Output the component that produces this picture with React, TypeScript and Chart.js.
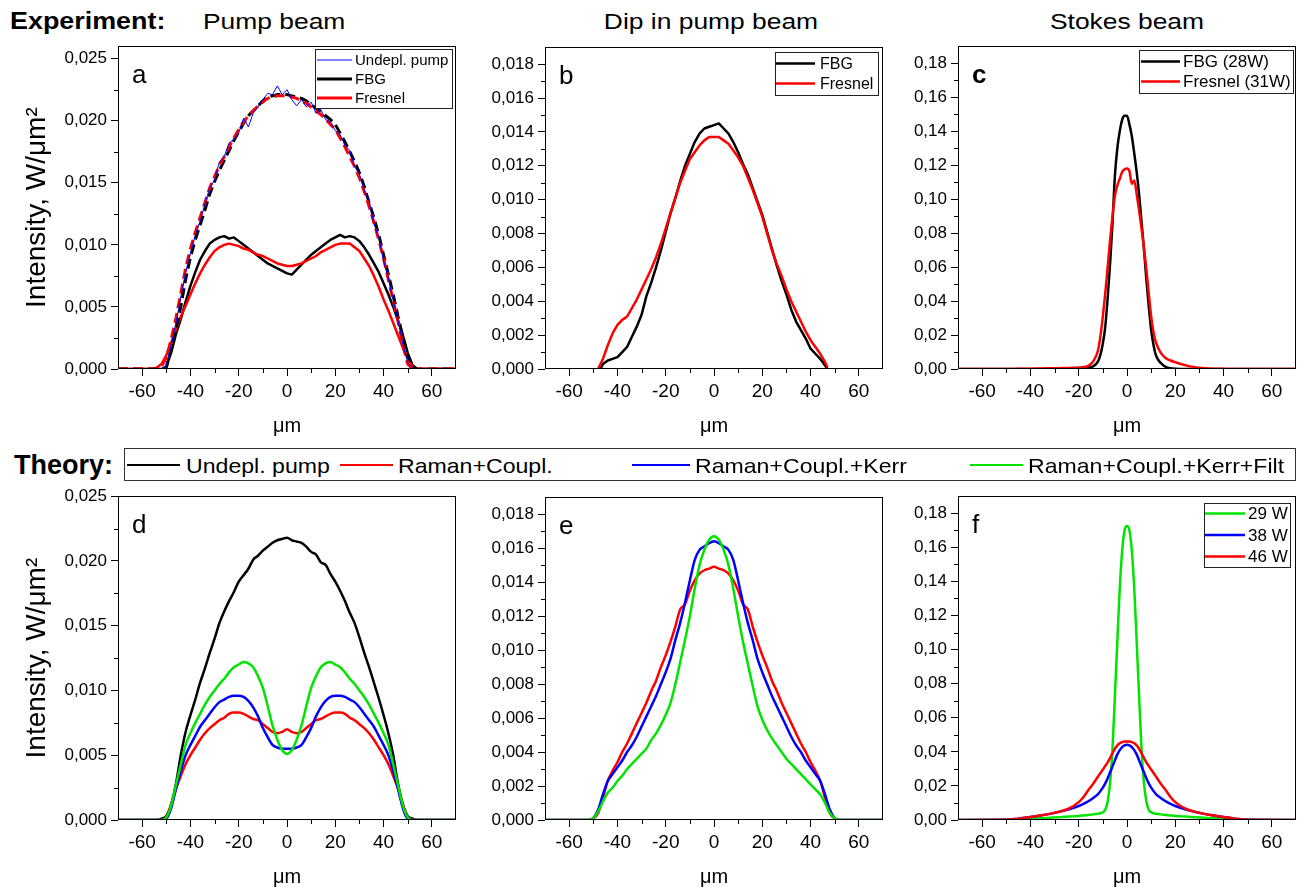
import React, { useEffect, useRef } from "react";
import { Chart, registerables } from "chart.js";

Chart.register(...registerables);

const FONT = '"Liberation Sans", Arial, Helvetica, sans-serif';
Chart.defaults.font.family = FONT;
Chart.defaults.color = "#000";

const RED = "#ff0000";
const BLUE = "#0000ff";
const GREEN = "#00e400";
const BLACK = "#000000";

// ---------- axis ticks ----------
const xMajor = [-60, -40, -20, 0, 20, 40, 60];
const xMinor = [-50, -30, -10, 10, 30, 50];
const yMajorA = [0, 0.005, 0.01, 0.015, 0.02, 0.025];
const yMinorA = [0.0025, 0.0075, 0.0125, 0.0175, 0.0225];
const yMajorB = [0, 0.002, 0.004, 0.006, 0.008, 0.01, 0.012, 0.014, 0.016, 0.018];
const yMinorB = [0.001, 0.003, 0.005, 0.007, 0.009, 0.011, 0.013, 0.015, 0.017];
const yMajorC = [0, 0.02, 0.04, 0.06, 0.08, 0.1, 0.12, 0.14, 0.16, 0.18];
const yMinorC = [0.01, 0.03, 0.05, 0.07, 0.09, 0.11, 0.13, 0.15, 0.17];

// ---------- x positions (µm) ----------
const xGrid = [-70, -56, -54, -52, -50, -48, -46, -44, -42, -40, -38, -36, -34, -32, -30, -28, -26, -24, -22, -20, -18, -16, -14, -12, -10, -8, -6, -4, -2, 0, 2, 4, 6, 8, 10, 12, 14, 16, 18, 20, 22, 24, 26, 28, 30, 32, 34, 36, 38, 40, 42, 44, 46, 48, 50, 52, 54, 56, 70];
const xB = [-48, -47, -46, -44, -42, -40, -38, -36, -34, -32, -30, -28, -26, -24, -22, -20, -18, -16, -14, -12, -10, -8, -6, -4, -2, 0, 2, 4, 6, 8, 10, 12, 14, 16, 18, 20, 22, 24, 26, 28, 30, 32, 34, 36, 38, 40, 42, 44, 46, 47, 48];
const xF = [-70, -50, -45, -40, -36, -32, -28, -24, -20, -18, -16, -14, -12, -11, -10, -9, -8, -7, -6, -5, -4, -3, -2, -1, 0, 1, 2, 3, 4, 5, 6, 7, 8, 9, 10, 11, 12, 14, 16, 18, 20, 24, 28, 32, 36, 40, 45, 50, 70];

// ---------- panel a (experiment, pump beam) on xGrid ----------
const aUndeplPump = [0, 0, 0, 0, 0.0003, 0.0019, 0.0037, 0.0058, 0.0078, 0.0093, 0.0108, 0.0119, 0.0133, 0.0146, 0.0152, 0.0167, 0.0171, 0.0182, 0.0185, 0.019, 0.0202, 0.0195, 0.0206, 0.0211, 0.0217, 0.0222, 0.0221, 0.0228, 0.0221, 0.0225, 0.0217, 0.0212, 0.0217, 0.0211, 0.0215, 0.0206, 0.0209, 0.0201, 0.0199, 0.0192, 0.0189, 0.018, 0.0176, 0.0163, 0.0157, 0.0144, 0.0136, 0.0117, 0.0106, 0.0087, 0.0073, 0.0055, 0.0039, 0.002, 0.0005, 0.0001, 0, 0, 0];
const aFbgUndepl = [0, 0, 0, 0, 0.0001, 0.0016, 0.0032, 0.005, 0.0072, 0.009, 0.0104, 0.0116, 0.0128, 0.0141, 0.0151, 0.016, 0.0168, 0.0176, 0.0184, 0.0191, 0.0198, 0.0204, 0.0208, 0.0212, 0.0216, 0.0219, 0.022, 0.0221, 0.0221, 0.0221, 0.022, 0.0219, 0.0218, 0.0216, 0.0213, 0.021, 0.0207, 0.0204, 0.0201, 0.0197, 0.019, 0.0183, 0.0175, 0.0167, 0.0158, 0.0147, 0.0134, 0.0122, 0.0108, 0.0092, 0.0076, 0.006, 0.0042, 0.0026, 0.0011, 0.0002, 0, 0, 0];
const aFresnelUndepl = [0, 0, 0, 0.0002, 0.0009, 0.0024, 0.0041, 0.0061, 0.0081, 0.0097, 0.011, 0.0122, 0.0134, 0.0146, 0.0155, 0.0164, 0.0171, 0.0179, 0.0186, 0.0193, 0.0199, 0.0204, 0.0208, 0.0212, 0.0215, 0.0218, 0.0219, 0.022, 0.022, 0.022, 0.0219, 0.0218, 0.0216, 0.0214, 0.0211, 0.0208, 0.0205, 0.0201, 0.0197, 0.0193, 0.0186, 0.0179, 0.0171, 0.0163, 0.0154, 0.0143, 0.0131, 0.0118, 0.0104, 0.0089, 0.0072, 0.0055, 0.0038, 0.0019, 0.0004, 0, 0, 0, 0];
const aFbg = [0, 0, 0, 0, 0.0002, 0.0013, 0.0028, 0.004, 0.0054, 0.0067, 0.0078, 0.0088, 0.0095, 0.0101, 0.0104, 0.0106, 0.0107, 0.0105, 0.0106, 0.0103, 0.01, 0.0097, 0.0094, 0.0091, 0.0088, 0.0085, 0.0083, 0.0081, 0.0079, 0.0077, 0.0076, 0.008, 0.0084, 0.0088, 0.0092, 0.0095, 0.0098, 0.0101, 0.0104, 0.0106, 0.0108, 0.0106, 0.0107, 0.0106, 0.0103, 0.0098, 0.0092, 0.0085, 0.0078, 0.0069, 0.006, 0.005, 0.0039, 0.0027, 0.0013, 0.0003, 0, 0, 0];
const aFresnel = [0, 0, 0.0001, 0.0004, 0.0011, 0.0021, 0.0032, 0.0042, 0.0051, 0.006, 0.0069, 0.0077, 0.0084, 0.009, 0.0095, 0.0098, 0.01, 0.0101, 0.01, 0.0099, 0.0097, 0.0096, 0.0094, 0.0092, 0.0091, 0.0089, 0.0087, 0.0085, 0.0084, 0.0083, 0.0083, 0.0084, 0.0085, 0.0087, 0.0089, 0.0091, 0.0094, 0.0096, 0.0098, 0.01, 0.0101, 0.0101, 0.0101, 0.0098, 0.0095, 0.0089, 0.0083, 0.0075, 0.0066, 0.0056, 0.0047, 0.0037, 0.0027, 0.0017, 0.0009, 0.0002, 0, 0, 0];

// ---------- panel b (experiment, dip in pump beam) on xB ----------
const bFbg = [null, 0, 0.0003, 0.0005, 0.0006, 0.0007, 0.001, 0.0013, 0.0019, 0.0025, 0.0032, 0.0043, 0.0051, 0.006, 0.007, 0.0081, 0.0092, 0.0101, 0.0111, 0.012, 0.0127, 0.0134, 0.0139, 0.0142, 0.0143, 0.0144, 0.0145, 0.0142, 0.0139, 0.0134, 0.0128, 0.0121, 0.0115, 0.0107, 0.0099, 0.0091, 0.0081, 0.0071, 0.0061, 0.0052, 0.0044, 0.0035, 0.0028, 0.0023, 0.0018, 0.0012, 0.0009, 0.0006, 0.0002, 0, null];
const bFresnel = [0, 0.0003, 0.0006, 0.0014, 0.0021, 0.0026, 0.0029, 0.0031, 0.0036, 0.0041, 0.0047, 0.0053, 0.0059, 0.0066, 0.0074, 0.0083, 0.0092, 0.0101, 0.011, 0.0117, 0.0124, 0.0128, 0.0132, 0.0135, 0.0137, 0.0137, 0.0137, 0.0135, 0.0133, 0.0129, 0.0125, 0.012, 0.0113, 0.0106, 0.0098, 0.009, 0.008, 0.007, 0.0062, 0.0055, 0.0047, 0.004, 0.0034, 0.0028, 0.0022, 0.0017, 0.0013, 0.0009, 0.0004, 0.0001, null];

// ---------- panel c (experiment, Stokes beam) on xF ----------
const cFbg28 = [0, 0, 0, 0, 0, 0.0003, 0.0004, 0.0005, 0.0006, 0.0008, 0.0011, 0.0016, 0.0045, 0.0085, 0.015, 0.025, 0.042, 0.062, 0.086, 0.114, 0.13, 0.14, 0.1467, 0.149, 0.149, 0.144, 0.137, 0.127, 0.116, 0.103, 0.087, 0.071, 0.053, 0.037, 0.023, 0.014, 0.008, 0.0035, 0.0013, 0.0004, 0.0001, 0, 0, 0, 0, 0, 0, 0, 0];
const cFresnel31 = [0, 0, 0.0001, 0.0002, 0.0003, 0.0004, 0.0005, 0.0006, 0.0008, 0.0011, 0.0019, 0.0045, 0.011, 0.0195, 0.031, 0.0447, 0.06, 0.076, 0.09, 0.102, 0.108, 0.112, 0.116, 0.1175, 0.118, 0.1165, 0.109, 0.111, 0.103, 0.0935, 0.083, 0.0715, 0.059, 0.0447, 0.031, 0.0215, 0.0155, 0.0095, 0.0065, 0.005, 0.004, 0.0023, 0.0011, 0.0005, 0.0002, 0.0001, 0, 0, 0];

// ---------- panel d (theory, pump beam) on xGrid ----------
const dUndepl = [0, 0, 0, 0.0001, 0.0003, 0.0012, 0.0028, 0.005, 0.0068, 0.0081, 0.0093, 0.0106, 0.0117, 0.0129, 0.014, 0.0152, 0.0161, 0.0169, 0.0176, 0.0184, 0.0189, 0.0194, 0.0201, 0.0204, 0.0208, 0.0211, 0.0214, 0.0216, 0.0217, 0.0218, 0.0216, 0.0215, 0.0214, 0.0211, 0.0207, 0.0205, 0.0199, 0.0197, 0.019, 0.0184, 0.0177, 0.0169, 0.016, 0.0152, 0.0141, 0.0129, 0.0118, 0.0106, 0.0094, 0.0081, 0.0067, 0.005, 0.0028, 0.0012, 0.0003, 0.0001, 0, 0, 0];
const dRamanCoupl = [0, 0, 0, 0, 0.0002, 0.0011, 0.0024, 0.0034, 0.0043, 0.005, 0.0056, 0.0062, 0.0067, 0.0071, 0.0074, 0.0077, 0.0079, 0.0082, 0.0083, 0.0083, 0.0082, 0.008, 0.0078, 0.0077, 0.0074, 0.0071, 0.0068, 0.0067, 0.0068, 0.007, 0.0068, 0.0067, 0.0068, 0.0071, 0.0074, 0.0077, 0.0078, 0.008, 0.0082, 0.0083, 0.0083, 0.0082, 0.0079, 0.0077, 0.0074, 0.0071, 0.0067, 0.0062, 0.0056, 0.005, 0.0043, 0.0034, 0.0024, 0.0011, 0.0002, 0, 0, 0, 0];
const dKerr = [0, 0, 0, 0, 0.0001, 0.0009, 0.0024, 0.0038, 0.005, 0.0058, 0.0065, 0.0072, 0.0077, 0.0082, 0.0087, 0.0091, 0.0093, 0.0095, 0.0096, 0.0096, 0.0095, 0.0092, 0.0087, 0.008, 0.0071, 0.0064, 0.0058, 0.0056, 0.0055, 0.0055, 0.0055, 0.0056, 0.0058, 0.0064, 0.0071, 0.008, 0.0087, 0.0092, 0.0095, 0.0096, 0.0096, 0.0095, 0.0093, 0.0091, 0.0087, 0.0082, 0.0077, 0.0072, 0.0065, 0.0058, 0.005, 0.0038, 0.0024, 0.0009, 0.0001, 0, 0, 0, 0];
const dFilt = [0, 0, 0, 0, 0.0002, 0.0011, 0.0027, 0.0043, 0.0058, 0.0067, 0.0075, 0.0082, 0.0089, 0.0095, 0.01, 0.0105, 0.0109, 0.0114, 0.0118, 0.012, 0.0122, 0.0121, 0.0118, 0.0111, 0.0102, 0.0088, 0.0073, 0.0062, 0.0054, 0.0051, 0.0054, 0.0062, 0.0073, 0.0088, 0.0102, 0.0111, 0.0118, 0.0121, 0.0122, 0.012, 0.0118, 0.0114, 0.0109, 0.0105, 0.01, 0.0095, 0.0089, 0.0082, 0.0075, 0.0067, 0.0058, 0.0043, 0.0027, 0.0011, 0.0002, 0, 0, 0, 0];

// ---------- panel e (theory, dip in pump beam) on xGrid ----------
const eRamanCoupl = [0, 0, 0, 0, 0.0001, 0.0004, 0.0013, 0.0023, 0.0029, 0.0034, 0.004, 0.0045, 0.0051, 0.0057, 0.0063, 0.0069, 0.0076, 0.0082, 0.009, 0.0097, 0.0105, 0.0114, 0.0124, 0.0127, 0.0135, 0.0141, 0.0145, 0.0147, 0.0148, 0.0149, 0.0148, 0.0147, 0.0145, 0.0141, 0.0135, 0.0127, 0.0124, 0.0114, 0.0105, 0.0097, 0.009, 0.0082, 0.0076, 0.0069, 0.0063, 0.0057, 0.0051, 0.0045, 0.004, 0.0034, 0.0029, 0.0023, 0.0013, 0.0004, 0.0001, 0, 0, 0, 0];
const eKerr = [0, 0, 0, 0, 0.0001, 0.0006, 0.0015, 0.0023, 0.0027, 0.0031, 0.0035, 0.004, 0.0044, 0.0049, 0.0055, 0.0061, 0.0067, 0.0073, 0.008, 0.0087, 0.0095, 0.0106, 0.0116, 0.0128, 0.0141, 0.0153, 0.0159, 0.0161, 0.0163, 0.0164, 0.0163, 0.0161, 0.0159, 0.0153, 0.0141, 0.0128, 0.0116, 0.0106, 0.0095, 0.0087, 0.008, 0.0073, 0.0067, 0.0061, 0.0055, 0.0049, 0.0044, 0.004, 0.0035, 0.0031, 0.0027, 0.0023, 0.0015, 0.0006, 0.0001, 0, 0, 0, 0];
const eFilt = [0, 0, 0, 0, 0.0001, 0.0005, 0.0011, 0.0016, 0.0019, 0.0023, 0.0026, 0.003, 0.0033, 0.0036, 0.0039, 0.0042, 0.0047, 0.0051, 0.0056, 0.0062, 0.0069, 0.008, 0.0093, 0.0106, 0.012, 0.0136, 0.015, 0.0159, 0.0165, 0.0167, 0.0165, 0.0159, 0.015, 0.0136, 0.012, 0.0105, 0.0092, 0.0079, 0.0067, 0.0059, 0.0053, 0.0048, 0.0044, 0.004, 0.0036, 0.0033, 0.003, 0.0027, 0.0024, 0.0021, 0.0018, 0.0015, 0.001, 0.0004, 0.0001, 0, 0, 0, 0];

// ---------- panel f (theory, Stokes beam) on xF ----------
const f29W = [0, 0.0002, 0.0005, 0.0008, 0.001, 0.0013, 0.0016, 0.002, 0.0024, 0.0027, 0.003, 0.0033, 0.0037, 0.004, 0.0045, 0.006, 0.011, 0.022, 0.042, 0.073, 0.105, 0.136, 0.158, 0.17, 0.1725, 0.17, 0.158, 0.136, 0.105, 0.073, 0.042, 0.022, 0.011, 0.006, 0.0045, 0.004, 0.0037, 0.0033, 0.003, 0.0027, 0.0024, 0.002, 0.0016, 0.0013, 0.001, 0.0008, 0.0005, 0.0002, 0];
const f38W = [0, 0.0001, 0.0008, 0.0017, 0.0026, 0.0036, 0.0048, 0.0063, 0.0082, 0.0095, 0.011, 0.0129, 0.0152, 0.017, 0.019, 0.0215, 0.0245, 0.028, 0.0315, 0.035, 0.0385, 0.041, 0.0428, 0.0438, 0.0441, 0.0438, 0.0428, 0.041, 0.0385, 0.035, 0.0315, 0.028, 0.0245, 0.0215, 0.019, 0.017, 0.0152, 0.0129, 0.011, 0.0095, 0.0082, 0.0063, 0.0048, 0.0036, 0.0026, 0.0017, 0.0008, 0.0001, 0];
const f46W = [0, 0.0001, 0.0008, 0.0017, 0.0026, 0.0036, 0.0049, 0.0068, 0.0105, 0.0135, 0.0176, 0.0213, 0.0255, 0.0276, 0.0296, 0.0317, 0.0338, 0.0365, 0.0392, 0.0418, 0.0438, 0.045, 0.0457, 0.046, 0.0461, 0.046, 0.0457, 0.045, 0.0438, 0.0418, 0.0392, 0.0365, 0.0338, 0.0317, 0.0296, 0.0276, 0.0255, 0.0213, 0.0176, 0.0135, 0.0105, 0.0068, 0.0049, 0.0036, 0.0026, 0.0017, 0.0008, 0.0001, 0];

// ---------- layout constants ----------
const AXW = 112;
const PADT = 14;
const PADR = 8;
const AXH = 70;

type Series = { label: string; data: (number | null)[]; color: string; width: number; dash?: number[]; order?: number };
type LegendSpec = { right: number; top: number; w: number; h: number; firstRow: number; rowH: number; lineStart: number; lineLen: number; textGap: number; font: number; items: { idx: number; lw: number }[] };
type PanelSpec = {
  letter: string; letterBold?: boolean;
  left: number; top: number; w: number; h: number;
  xs: number[]; series: Series[]; smooth: boolean;
  yMax: number; yMajor: number[]; yMinor: number[]; yDec: number; yTitle?: boolean;
  legend?: LegendSpec;
};

const panels: PanelSpec[] = [
  {
    letter: "a", left: 118, top: 46, w: 338, h: 323, xs: xGrid, smooth: false,
    yMax: 0.026, yMajor: yMajorA, yMinor: yMinorA, yDec: 3, yTitle: true,
    series: [
      { label: "Undepl. pump", data: aUndeplPump, color: BLUE, width: 1, order: 1 },
      { label: "FBG undepl.", data: aFbgUndepl, color: BLACK, width: 3, dash: [10, 5], order: 3 },
      { label: "Fresnel undepl.", data: aFresnelUndepl, color: RED, width: 3, dash: [10, 5], order: 2 },
      { label: "FBG", data: aFbg, color: BLACK, width: 2.5, order: 5 },
      { label: "Fresnel", data: aFresnel, color: RED, width: 2.5, order: 4 },
    ],
    legend: { right: 4, top: 3, w: 137, h: 59, firstRow: 11, rowH: 19, lineStart: 2, lineLen: 35, textGap: 3, font: 15, items: [{ idx: 0, lw: 1.2 }, { idx: 3, lw: 3 }, { idx: 4, lw: 3 }] },
  },
  {
    letter: "b", left: 545, top: 47, w: 338, h: 322, xs: xB, smooth: false,
    yMax: 0.019, yMajor: yMajorB, yMinor: yMinorB, yDec: 3,
    series: [
      { label: "FBG", data: bFbg, color: BLACK, width: 2.5, order: 2 },
      { label: "Fresnel", data: bFresnel, color: RED, width: 2.5, order: 1 },
    ],
    legend: { right: 5, top: 5, w: 103, h: 43, firstRow: 11.5, rowH: 20, lineStart: 1, lineLen: 39, textGap: 5, font: 16, items: [{ idx: 0, lw: 2.5 }, { idx: 1, lw: 2.5 }] },
  },
  {
    letter: "c", letterBold: true, left: 958, top: 46, w: 338, h: 323, xs: xF, smooth: true,
    yMax: 0.19, yMajor: yMajorC, yMinor: yMinorC, yDec: 2,
    series: [
      { label: "FBG (28W)", data: cFbg28, color: BLACK, width: 2.5, order: 2 },
      { label: "Fresnel (31W)", data: cFresnel31, color: RED, width: 2.5, order: 1 },
    ],
    legend: { right: 3, top: 4, w: 154, h: 43, firstRow: 11.5, rowH: 20, lineStart: 2, lineLen: 39, textGap: 3, font: 17, items: [{ idx: 0, lw: 2.5 }, { idx: 1, lw: 2.5 }] },
  },
  {
    letter: "d", left: 118, top: 496, w: 338, h: 324, xs: xGrid, smooth: true,
    yMax: 0.025, yMajor: yMajorA, yMinor: yMinorA, yDec: 3, yTitle: true,
    series: [
      { label: "Undepl. pump", data: dUndepl, color: BLACK, width: 2.5, order: 4 },
      { label: "Raman+Coupl.", data: dRamanCoupl, color: RED, width: 2.5, order: 3 },
      { label: "Raman+Coupl.+Kerr", data: dKerr, color: BLUE, width: 2.5, order: 2 },
      { label: "Raman+Coupl.+Kerr+Filt", data: dFilt, color: GREEN, width: 2.5, order: 1 },
    ],
  },
  {
    letter: "e", left: 545, top: 497, w: 338, h: 323, xs: xGrid, smooth: true,
    yMax: 0.019, yMajor: yMajorB, yMinor: yMinorB, yDec: 3,
    series: [
      { label: "Raman+Coupl.", data: eRamanCoupl, color: RED, width: 2.5, order: 3 },
      { label: "Raman+Coupl.+Kerr", data: eKerr, color: BLUE, width: 2.5, order: 2 },
      { label: "Raman+Coupl.+Kerr+Filt", data: eFilt, color: GREEN, width: 2.5, order: 1 },
    ],
  },
  {
    letter: "f", left: 958, top: 496, w: 338, h: 324, xs: xF, smooth: true,
    yMax: 0.19, yMajor: yMajorC, yMinor: yMinorC, yDec: 2,
    series: [
      { label: "29 W", data: f29W, color: GREEN, width: 2.5, order: 3 },
      { label: "38 W", data: f38W, color: BLUE, width: 2.5, order: 2 },
      { label: "46 W", data: f46W, color: RED, width: 2.5, order: 1 },
    ],
    legend: { right: 6, top: 7, w: 86, h: 64, firstRow: 10.5, rowH: 21.5, lineStart: 1, lineLen: 40, textGap: 3, font: 17, items: [{ idx: 0, lw: 2.5 }, { idx: 1, lw: 2.5 }, { idx: 2, lw: 2.5 }] },
  },
];

function Panel({ p }: { p: PanelSpec }) {
  const ref = useRef<HTMLCanvasElement | null>(null);
  const cw = AXW + p.w + PADR;
  const ch = PADT + p.h + AXH;

  useEffect(() => {
    const canvas = ref.current;
    if (!canvas) return;

    const decor = {
      id: "decor",
      afterDraw(chart: any) {
        const ctx = chart.ctx as CanvasRenderingContext2D;
        const a = chart.chartArea;
        const xs = chart.scales.x;
        const ys = chart.scales.y;
        ctx.save();
        const L = Math.round(a.left);
        const T = Math.round(a.top);
        const R = Math.round(a.right);
        const B = Math.round(a.bottom);
        ctx.strokeStyle = "#000";
        ctx.lineWidth = 1;
        ctx.strokeRect(L + 0.5, T + 0.5, R - L - 1, B - T - 1);
        ctx.beginPath();
        for (const v of xMinor) {
          const px = Math.round(xs.getPixelForValue(v)) + 0.5;
          ctx.moveTo(px, B);
          ctx.lineTo(px, B + 4);
        }
        for (const v of p.yMinor) {
          const py = Math.round(ys.getPixelForValue(v)) + 0.5;
          ctx.moveTo(L - 4, py);
          ctx.lineTo(L, py);
        }
        ctx.stroke();

        // panel letter
        ctx.fillStyle = "#000";
        ctx.textBaseline = "alphabetic";
        ctx.textAlign = "left";
        ctx.font = `${p.letterBold ? "bold " : ""}26px ${FONT}`;
        ctx.fillText(p.letter, L + 14, T + 37);

        // boxed legend inside plot
        const lg = p.legend;
        if (lg) {
          const bx = Math.round(R - lg.right - lg.w);
          const by = Math.round(T + lg.top);
          ctx.fillStyle = "#fff";
          ctx.fillRect(bx, by, lg.w, lg.h);
          ctx.strokeStyle = "#222";
          ctx.lineWidth = 1;
          ctx.strokeRect(bx + 0.5, by + 0.5, lg.w, lg.h);
          ctx.font = `${lg.font}px ${FONT}`;
          ctx.textBaseline = "middle";
          lg.items.forEach((it, i) => {
            const ds = chart.data.datasets[it.idx];
            const y = by + lg.firstRow + i * lg.rowH;
            ctx.strokeStyle = ds.borderColor;
            ctx.lineWidth = it.lw;
            ctx.setLineDash([]);
            ctx.beginPath();
            ctx.moveTo(bx + lg.lineStart, y);
            ctx.lineTo(bx + lg.lineStart + lg.lineLen, y);
            ctx.stroke();
            ctx.fillStyle = "#000";
            ctx.fillText(ds.label, bx + lg.lineStart + lg.lineLen + lg.textGap, y + 1);
          });
        }
        ctx.restore();
      },
    };

    const gridOpts = { display: true, drawOnChartArea: false, drawTicks: true, tickLength: 7, color: "#000", lineWidth: 1 };

    const chart = new Chart(canvas, {
      type: "line",
      data: {
        datasets: p.series.map((s) => ({
          label: s.label,
          data: p.xs.map((x, i) => ({ x, y: s.data[i] })),
          borderColor: s.color,
          backgroundColor: s.color,
          borderWidth: s.width,
          borderDash: s.dash ?? [],
          borderJoinStyle: "round",
          pointRadius: 0,
          pointHoverRadius: 0,
          fill: false,
          tension: 0,
          cubicInterpolationMode: p.smooth ? "monotone" : "default",
          order: s.order ?? 0,
        })),
      } as any,
      options: {
        responsive: false,
        animation: false,
        devicePixelRatio: 1,
        events: [],
        layout: { padding: { top: PADT, right: PADR, bottom: 0, left: 0 } },
        plugins: { legend: { display: false }, tooltip: { enabled: false } },
        scales: {
          x: {
            type: "linear",
            min: -70,
            max: 70,
            afterBuildTicks: (s: any) => {
              s.ticks = xMajor.map((v) => ({ value: v }));
            },
            afterFit: (s: any) => {
              s.height = AXH;
            },
            grid: gridOpts,
            border: { display: false },
            ticks: {
              autoSkip: false,
              maxRotation: 0,
              padding: 4,
              color: "#000",
              font: { family: FONT, size: 19 },
              callback: (v: any) => String(v),
            },
            title: { display: true, text: "μm", color: "#000", font: { family: FONT, size: 20 }, padding: { top: 0, bottom: 1 } },
          },
          y: {
            type: "linear",
            min: 0,
            max: p.yMax,
            afterBuildTicks: (s: any) => {
              s.ticks = p.yMajor.map((v) => ({ value: v }));
            },
            afterFit: (s: any) => {
              s.width = AXW;
            },
            grid: gridOpts,
            border: { display: false },
            ticks: {
              autoSkip: false,
              padding: 4,
              color: "#000",
              font: { family: FONT, size: 17 },
              callback: (v: any) => Number(v).toFixed(p.yDec).replace(".", ","),
            },
            title: { display: !!p.yTitle, text: "Intensity, W/μm²", color: "#000", font: { family: FONT, size: 28 }, padding: { top: 14, bottom: 0 } },
          },
        },
      } as any,
      plugins: [decor],
    });
    return () => chart.destroy();
  }, []);

  return (
    <canvas
      ref={ref}
      width={cw}
      height={ch}
      style={{ position: "absolute", left: p.left - AXW, top: p.top - PADT, width: cw, height: ch }}
    />
  );
}

function Txt(props: { left: number; top: number; size: number; bold?: boolean; sx?: number; center?: boolean; children: React.ReactNode }) {
  const { left, top, size, bold, sx = 1, center, children } = props;
  return (
    <div
      style={{
        position: "absolute",
        left,
        top,
        fontSize: size,
        fontWeight: bold ? 700 : 400,
        lineHeight: 1,
        whiteSpace: "nowrap",
        transform: center ? `translateX(-50%) scaleX(${sx})` : `scaleX(${sx})`,
        transformOrigin: center ? "center top" : "left top",
      }}
    >
      {children}
    </div>
  );
}

const theoryItems = [
  { text: "Undepl. pump", color: BLACK, lineLeft: 127, lineW: 53, textLeft: 186 },
  { text: "Raman+Coupl.", color: RED, lineLeft: 340, lineW: 53, textLeft: 398 },
  { text: "Raman+Coupl.+Kerr", color: BLUE, lineLeft: 632, lineW: 58, textLeft: 695 },
  { text: "Raman+Coupl.+Kerr+Filt", color: GREEN, lineLeft: 970, lineW: 53, textLeft: 1028 },
];

export default function App() {
  return (
    <div
      style={{
        position: "absolute",
        left: 0,
        top: 0,
        width: 1306,
        height: 887,
        background: "#fff",
        overflow: "hidden",
        fontFamily: FONT,
        color: "#000",
      }}
    >
      <Txt left={10} top={9} size={24} bold sx={1.12}>Experiment:</Txt>
      <Txt left={203} top={11} size={22} sx={1.2}>Pump beam</Txt>
      <Txt left={711} top={11} size={22} sx={1.2} center>Dip in pump beam</Txt>
      <Txt left={1127} top={11} size={22} sx={1.2} center>Stokes beam</Txt>

      {panels.map((p) => (
        <Panel key={p.letter} p={p} />
      ))}

      <Txt left={14} top={452} size={27} bold>Theory:</Txt>
      <div
        style={{
          position: "absolute",
          left: 124,
          top: 448,
          width: 1172,
          height: 33,
          border: "1px solid #333",
          boxSizing: "border-box",
        }}
      />
      {theoryItems.map((it) => (
        <React.Fragment key={it.text}>
          <div style={{ position: "absolute", left: it.lineLeft, top: 464, width: it.lineW, height: 2, background: it.color }} />
          <Txt left={it.textLeft} top={455} size={21} sx={1.1}>{it.text}</Txt>
        </React.Fragment>
      ))}
    </div>
  );
}
